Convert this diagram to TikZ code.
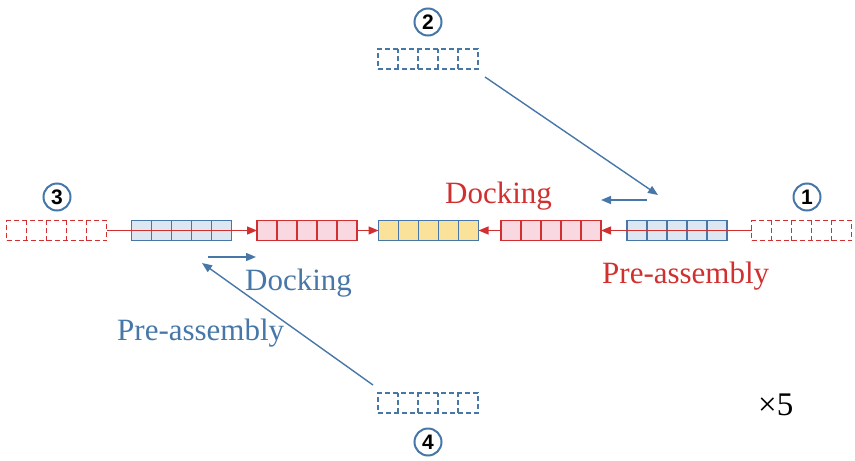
\documentclass[tikz,border=0pt]{standalone}
\usepackage{fontspec}
\setmainfont{Liberation Serif}
\newfontfamily\numfont{Liberation Sans}
\usetikzlibrary{arrows.meta,calc}

\definecolor{steel}{HTML}{4677A8}
\definecolor{crim}{HTML}{D0302F}
\definecolor{pinkfill}{HTML}{F9D8E1}
\definecolor{bluefill}{HTML}{DDE7F2}
\definecolor{yellowfill}{HTML}{FBE29A}

\tikzset{
  unit/.style={rectangle, minimum width=100pt, minimum height=20pt,
    inner sep=0pt, outer sep=0pt, line width=1.4pt},
  bluebox/.style={unit, draw=steel, fill=bluefill},
  pinkbox/.style={unit, draw=crim, fill=pinkfill},
  goldbox/.style={unit, draw=steel, fill=yellowfill},
  dashy/.style={dashed, dash pattern=on 5pt off 3pt},
  reddash/.style={unit, draw=crim, dashy},
  bluedash/.style={unit, draw=steel, dashy},
  tip/.style={-{Triangle[length=10pt,width=8pt]}},
  redlink/.style={tip, draw=crim, line width=1.4pt},
  bluelink/.style={tip, draw=steel, line width=1.4pt},
  badge/.style={circle, draw=steel, fill=white, line width=2pt,
    minimum size=27pt, inner sep=0pt, font=\numfont\bfseries\fontsize{21}{21}\selectfont},
  lbl/.style={font=\fontsize{31}{34}\selectfont, inner sep=0pt, anchor=base west},
}

% vertical dividers splitting a unit into five cells
\newcommand\cells[2]{%
  \foreach \k in {1,...,4}
    \draw[#2] ($(#1.south west)!\k/5!(#1.south east)$) -- ($(#1.north west)!\k/5!(#1.north east)$);}

\begin{document}
\begin{tikzpicture}[x=1pt,y=-1pt]
\useasboundingbox (0,0) rectangle (855,461);

% main chain
\node[reddash]  (r3) at (56.5,230.5) {};
\node[bluebox]  (b3) at (181.5,230.5) {};
\node[pinkbox]  (p1) at (307,230.5) {};
\node[goldbox]  (gc) at (428.5,230.5) {};
\node[pinkbox]  (p2) at (551,230.5) {};
\node[bluebox]  (b1) at (677,230.5) {};
\node[reddash]  (r1) at (801.5,230.5) {};

% units waiting above and below
\node[bluedash] (d2) at (428,59) {};
\node[bluedash] (d4) at (428,403) {};

\cells{r3}{crim, line width=1.4pt, dashy}
\cells{b3}{steel, line width=1.4pt}
\cells{p1}{crim, line width=1.4pt}
\cells{gc}{steel, line width=1.4pt}
\cells{p2}{crim, line width=1.4pt}
\cells{b1}{steel, line width=1.4pt}
\cells{r1}{crim, line width=1.4pt, dashy}
\cells{d2}{steel, line width=1.4pt, dashy}
\cells{d4}{steel, line width=1.4pt, dashy}

% pre-assembly and docking along the chain
\draw[redlink] (r3.east) -- (p1.west);
\draw[redlink] (p1.east) -- (gc.west);
\draw[redlink] (p2.west) -- (gc.east);
\draw[redlink] (r1.west) -- (p2.east);

% incoming units
\coordinate (s2) at (485,77);
\coordinate (t2) at (658,195);
\coordinate (m2a) at (647,200);
\coordinate (m2b) at (601,200);
\coordinate (s4) at (373,385);
\coordinate (t4) at (202,263);
\coordinate (m4a) at (208,257);
\coordinate (m4b) at (256,257);
\draw[bluelink] (s2) -- (t2);
\draw[bluelink] (m2a) -- (m2b);
\draw[bluelink] (s4) -- (t4);
\draw[bluelink] (m4a) -- (m4b);

% labels
\node[lbl, text=crim]  (lda) at (445,203) {Docking};
\node[lbl, text=crim]  (lpa) at (602,283) {Pre-assembly};
\node[lbl, text=steel] (ldb) at (245,290) {Docking};
\node[lbl, text=steel] (lpb) at (117,340) {Pre-assembly};
\node[lbl, font=\fontsize{33}{36}\selectfont] (mult) at (758,415) {×5};

% step numbers
\node[badge] (n1) at (807,197) {1};
\node[badge] (n2) at (428,22) {2};
\node[badge] (n3) at (57,197) {3};
\node[badge] (n4) at (428,442) {4};
\end{tikzpicture}
\end{document}
